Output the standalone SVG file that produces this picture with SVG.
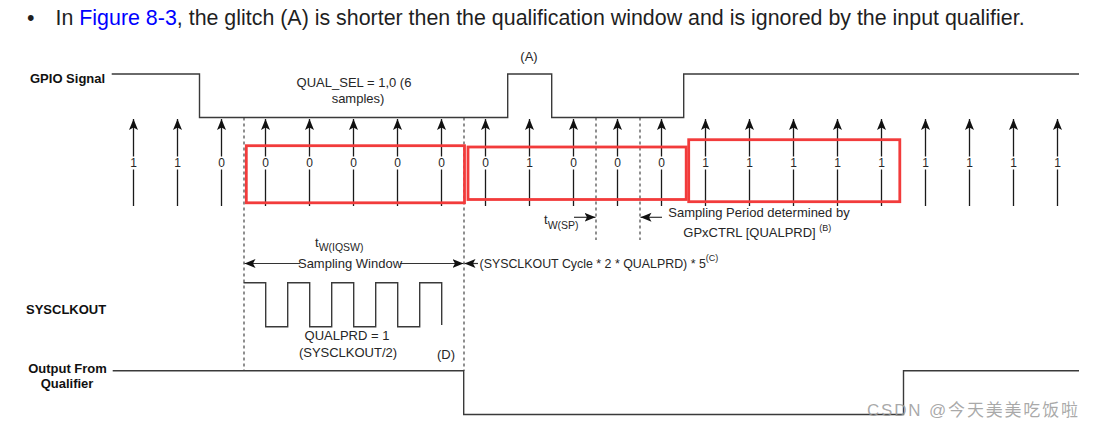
<svg xmlns="http://www.w3.org/2000/svg" width="1094" height="429" viewBox="0 0 1094 429">
<style>
text{font-family:"Liberation Sans",Arial,sans-serif;fill:#262626}
.head{font-size:21.4px;fill:#1f1f1f}
.lbl{font-size:13px;font-weight:bold;fill:#111}
.t13{font-size:13px}
.dig{font-size:12px;text-anchor:middle}
.sub{font-size:10.5px}
.sup{font-size:9px}
.wave{fill:none;stroke:#3a3a3a;stroke-width:1.4}
.shaft{stroke:#1a1a1a;stroke-width:1.3}
.dash{stroke:#333;stroke-width:1.1;stroke-dasharray:3 3}
.red{fill:none;stroke:#f23b3b;stroke-width:2.8}
.dim{stroke:#333;stroke-width:1.2;fill:none}
</style>
<defs>
<marker id="ah" markerUnits="userSpaceOnUse" markerWidth="12" markerHeight="10" refX="11" refY="4.5" orient="auto-start-reverse">
<path d="M0,0 L11,4.5 L0,9 L2.5,4.5 z" fill="#111"/>
</marker>
</defs>
<rect width="1094" height="429" fill="#fff"/>

<g id="heading">
<text class="head" x="27" y="24.5">•</text>
<text class="head" x="55.5" y="24.5">In <tspan fill="#0000ff">Figure 8-3</tspan>, the glitch (A) is shorter then the qualification window and is ignored by the input qualifier.</text>
</g>

<g id="gpio">
<text class="lbl" x="30" y="83">GPIO Signal</text>
<path class="wave" d="M111.7,74 H199.5 V117.5 H507.7 V74 H551.7 V117.5 H683.7 V74 H1079"/>
<text class="t13" x="529" y="61" text-anchor="middle">(A)</text>
<text class="t13" x="354" y="86.5" text-anchor="middle">QUAL_SEL = 1,0 (6</text>
<text class="t13" x="358" y="102.5" text-anchor="middle">samples)</text>
</g>

<g id="samples">
<g class="shaft" marker-end="url(#ah)">
<line x1="133.5" y1="156.5" x2="133.5" y2="119"/>
<line x1="177.5" y1="156.5" x2="177.5" y2="119"/>
<line x1="221.5" y1="156.5" x2="221.5" y2="119"/>
<line x1="265.5" y1="156.5" x2="265.5" y2="119"/>
<line x1="309.5" y1="156.5" x2="309.5" y2="119"/>
<line x1="353.5" y1="156.5" x2="353.5" y2="119"/>
<line x1="397.5" y1="156.5" x2="397.5" y2="119"/>
<line x1="441.5" y1="156.5" x2="441.5" y2="119"/>
<line x1="485.5" y1="156.5" x2="485.5" y2="119"/>
<line x1="529.5" y1="156.5" x2="529.5" y2="119"/>
<line x1="573.5" y1="156.5" x2="573.5" y2="119"/>
<line x1="617.5" y1="156.5" x2="617.5" y2="119"/>
<line x1="661.5" y1="156.5" x2="661.5" y2="119"/>
<line x1="705.5" y1="156.5" x2="705.5" y2="119"/>
<line x1="749.5" y1="156.5" x2="749.5" y2="119"/>
<line x1="793.5" y1="156.5" x2="793.5" y2="119"/>
<line x1="837.5" y1="156.5" x2="837.5" y2="119"/>
<line x1="881.5" y1="156.5" x2="881.5" y2="119"/>
<line x1="925.5" y1="156.5" x2="925.5" y2="119"/>
<line x1="969.5" y1="156.5" x2="969.5" y2="119"/>
<line x1="1013.5" y1="156.5" x2="1013.5" y2="119"/>
<line x1="1057.5" y1="156.5" x2="1057.5" y2="119"/>
</g>
<path class="shaft" d="M133.5,169.5V206M177.5,169.5V206M221.5,169.5V206M265.5,169.5V206M309.5,169.5V206M353.5,169.5V206M397.5,169.5V206M441.5,169.5V206M485.5,169.5V206M529.5,169.5V206M573.5,169.5V206M617.5,169.5V206M661.5,169.5V206M705.5,169.5V206M749.5,169.5V206M793.5,169.5V206M837.5,169.5V206M881.5,169.5V206M925.5,169.5V206M969.5,169.5V206M1013.5,169.5V206M1057.5,169.5V206"/>
<text class="dig" y="166.5"><tspan x="133.5">1</tspan><tspan x="177.5">1</tspan><tspan x="221.5">0</tspan><tspan x="265.5">0</tspan><tspan x="309.5">0</tspan><tspan x="353.5">0</tspan><tspan x="397.5">0</tspan><tspan x="441.5">0</tspan><tspan x="485.5">0</tspan><tspan x="529.5">1</tspan><tspan x="573.5">0</tspan><tspan x="617.5">0</tspan><tspan x="661.5">0</tspan><tspan x="705.5">1</tspan><tspan x="749.5">1</tspan><tspan x="793.5">1</tspan><tspan x="837.5">1</tspan><tspan x="881.5">1</tspan><tspan x="925.5">1</tspan><tspan x="969.5">1</tspan><tspan x="1013.5">1</tspan><tspan x="1057.5">1</tspan></text>
</g>

<g id="guides">
<path class="dash" d="M244,117.5V370.7M464,117.5V370.7M596,117.5V240M640,117.5V240"/>
</g>

<g id="connectors">
<line class="dim" x1="574" y1="217.3" x2="595.5" y2="217.3" marker-end="url(#ah)"/>
<line class="dim" x1="662" y1="217.3" x2="640.5" y2="217.3" marker-end="url(#ah)"/>
<line class="dim" x1="300" y1="263.5" x2="244.5" y2="263.5" marker-end="url(#ah)"/>
<line class="dim" x1="400" y1="263.5" x2="463.5" y2="263.5" marker-end="url(#ah)"/>
<line class="dim" x1="478" y1="263.5" x2="464.5" y2="263.5" marker-end="url(#ah)"/>
</g>

<g id="sp-labels">
<text class="t13" x="544" y="224">t<tspan class="sub" y="228.5">W(SP)</tspan></text>
<text class="t13" x="668.3" y="217">Sampling Period determined by</text>
<text class="t13" x="683.3" y="236.5">GPxCTRL [QUALPRD] <tspan class="sup" y="231">(B)</tspan></text>
</g>

<g id="window-labels">
<text class="t13" x="315" y="247">t<tspan class="sub" y="251">W(IQSW)</tspan></text>
<text class="t13" x="350" y="268" text-anchor="middle">Sampling Window</text>
<text x="479.5" y="268" style="font-size:12.4px">(SYSCLKOUT Cycle * 2 * QUALPRD) * 5<tspan class="sup" y="261">(C)</tspan></text>
</g>

<g id="red-boxes">
<rect class="red" x="246.3" y="145.7" width="218.2" height="57.1"/>
<rect class="red" x="468" y="147" width="218.2" height="52.5"/>
<rect class="red" x="688.7" y="139.7" width="211.1" height="62"/>
</g>

<g id="sysclkout">
<text class="lbl" x="26" y="313.5">SYSCLKOUT</text>
<path class="wave" d="M243.5,282.7 H265.7 V326.7 H287.7 V282.7 H309.7 V326.7 H331.7 V282.7 H353.7 V326.7 H375.7 V282.7 H397.7 V326.7 H419.7 V282.7 H441.7 V325"/>
<text class="t13" x="347" y="340" text-anchor="middle">QUALPRD = 1</text>
<text class="t13" x="348" y="356.5" text-anchor="middle">(SYSCLKOUT/2)</text>
<text class="t13" x="437" y="359">(D)</text>
</g>

<g id="output">
<text class="lbl" x="67.5" y="373" text-anchor="middle">Output From</text>
<text class="lbl" x="67" y="388" text-anchor="middle">Qualifier</text>
<path class="wave" d="M112.7,370.7 H463.7 V414.5 H903.5 V370.7 H1079"/>
</g>

<g id="watermark">
<text x="867" y="416" font-size="17" textLength="211" lengthAdjust="spacing" style="fill:#9a9a9a;fill-opacity:0.85;font-family:'Liberation Sans','Noto Sans CJK SC',sans-serif">CSDN @今天美美吃饭啦</text>
</g>
</svg>
